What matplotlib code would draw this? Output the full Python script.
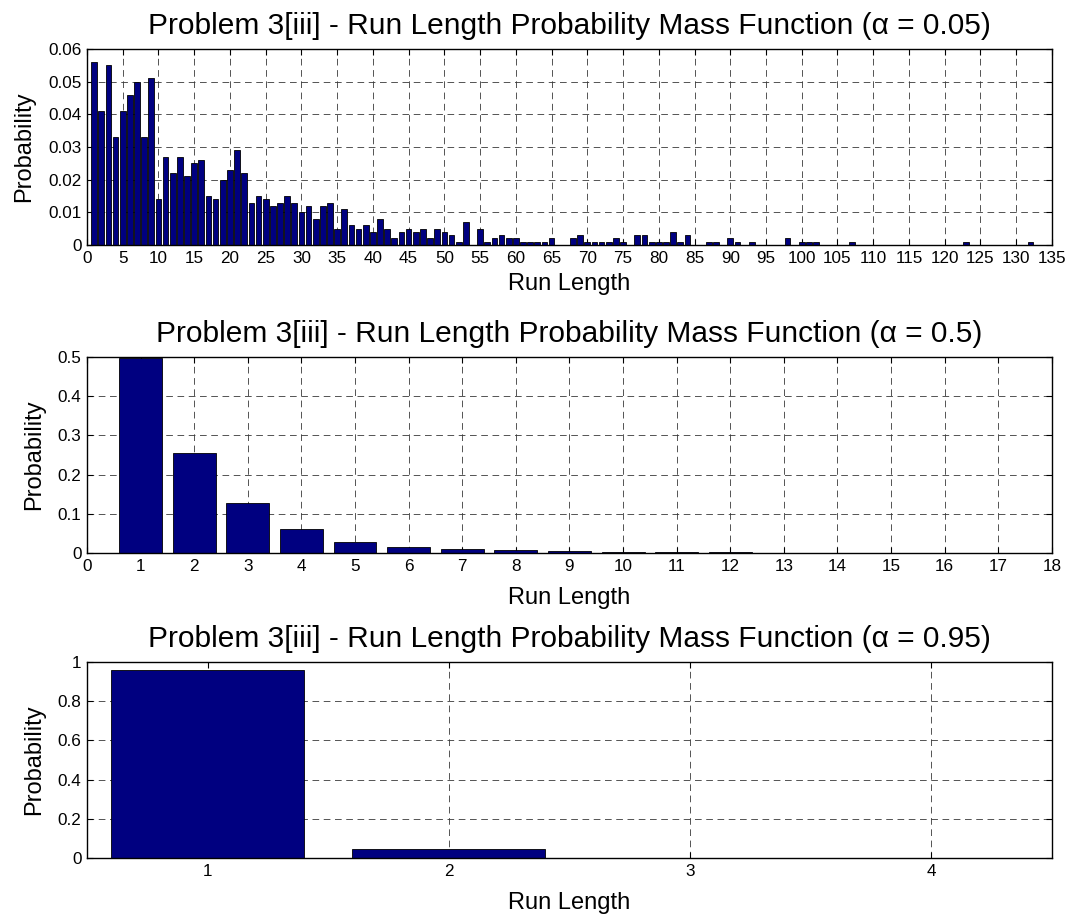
import numpy as np
import matplotlib
matplotlib.use('Agg')
import matplotlib.pyplot as plt

plt.rcParams['font.family'] = ['Liberation Sans', 'DejaVu Sans']

# run length pmf, alpha = 0.05 (run lengths 1..132)
pmf_005 = [
    0.056, 0.041, 0.055, 0.033, 0.041, 0.046, 0.050, 0.033, 0.051, 0.014,
    0.027, 0.022, 0.027, 0.021, 0.025, 0.026, 0.015, 0.014, 0.020, 0.023,
    0.029, 0.022, 0.013, 0.015, 0.014, 0.012, 0.013, 0.015, 0.013, 0.010,
    0.012, 0.008, 0.012, 0.013, 0.005, 0.011, 0.006, 0.005, 0.006, 0.004,
    0.008, 0.005, 0.002, 0.004, 0.005, 0.004, 0.005, 0.002, 0.005, 0.004,
    0.003, 0.001, 0.007, 0.000, 0.005, 0.001, 0.002, 0.003, 0.002, 0.002,
    0.001, 0.001, 0.001, 0.001, 0.002, 0.000, 0.000, 0.002, 0.003, 0.001,
    0.001, 0.001, 0.001, 0.002, 0.001, 0.000, 0.003, 0.003, 0.001, 0.001,
    0.001, 0.004, 0.001, 0.003, 0.000, 0.000, 0.001, 0.001, 0.000, 0.002,
    0.001, 0.000, 0.001, 0.000, 0.000, 0.000, 0.000, 0.002, 0.000, 0.001,
    0.001, 0.001, 0.000, 0.000, 0.000, 0.000, 0.001, 0.000, 0.000, 0.000,
    0.000, 0.000, 0.000, 0.000, 0.000, 0.000, 0.000, 0.000, 0.000, 0.000,
    0.000, 0.000, 0.001, 0.000, 0.000, 0.000, 0.000, 0.000, 0.000, 0.000,
    0.000, 0.001,
]
runs_005 = list(range(1, len(pmf_005) + 1))

# alpha = 0.5 (run lengths 1..17)
runs_05 = list(range(1, 18))
pmf_05 = [0.498, 0.254, 0.128, 0.061, 0.029, 0.015, 0.010, 0.007, 0.004,
          0.002, 0.002, 0.002, 0.0, 0.0, 0.0, 0.001, 0.0]

# alpha = 0.95 (run lengths 1..4)
runs_095 = [1, 2, 3, 4]
pmf_095 = [0.958, 0.048, 0.002, 0.002]

panels = [
    (0.05, runs_005, pmf_005, (0, 135), list(range(0, 136, 5)),
     (0, 0.06), [0, 0.01, 0.02, 0.03, 0.04, 0.05, 0.06],
     ['0', '0.01', '0.02', '0.03', '0.04', '0.05', '0.06']),
    (0.5, runs_05, pmf_05, (0, 18), list(range(0, 19)),
     (0, 0.5), [0, 0.1, 0.2, 0.3, 0.4, 0.5],
     ['0', '0.1', '0.2', '0.3', '0.4', '0.5']),
    (0.95, runs_095, pmf_095, (0.5, 4.5), [1, 2, 3, 4],
     (0, 1), [0, 0.2, 0.4, 0.6, 0.8, 1],
     ['0', '0.2', '0.4', '0.6', '0.8', '1']),
]

fig = plt.figure(figsize=(10.71, 9.16), dpi=100)
bottoms = [0.7325, 0.3963, 0.0633]
xlabel_pads = [5, 10, 10]

for (alpha, x, y, xlim, xticks, ylim, yticks, ylabels), b, xpad in zip(panels, bottoms, xlabel_pads):
    ax = fig.add_axes([0.0812, b, 0.901, 0.214])
    ax.bar(x, y, width=0.8, color='#000080', edgecolor='black', linewidth=0.6, zorder=3)
    ax.set_xlim(*xlim)
    ax.set_ylim(*ylim)
    ax.set_xticks(xticks)
    ax.set_xticklabels([str(t) for t in xticks])
    ax.set_yticks(yticks)
    ax.set_yticklabels(ylabels)
    ax.tick_params(direction='in', top=True, right=True, length=4, width=0.8,
                   labelsize=12.3, pad=4)
    ax.grid(True, linestyle=(0, (8, 5.5)), color='#383838', linewidth=0.6, zorder=1)
    ax.set_axisbelow(False)
    for s in ax.spines.values():
        s.set_linewidth(1.0)
        s.set_zorder(4)
    ax.set_title(f'Problem 3[iii] - Run Length Probability Mass Function (α = {alpha})',
                 fontsize=21.5, pad=11)
    ax.set_xlabel('Run Length', fontsize=17, labelpad=xpad)
    ax.set_ylabel('Probability', fontsize=17, labelpad=9)

fig.savefig('out.png', dpi=100)
